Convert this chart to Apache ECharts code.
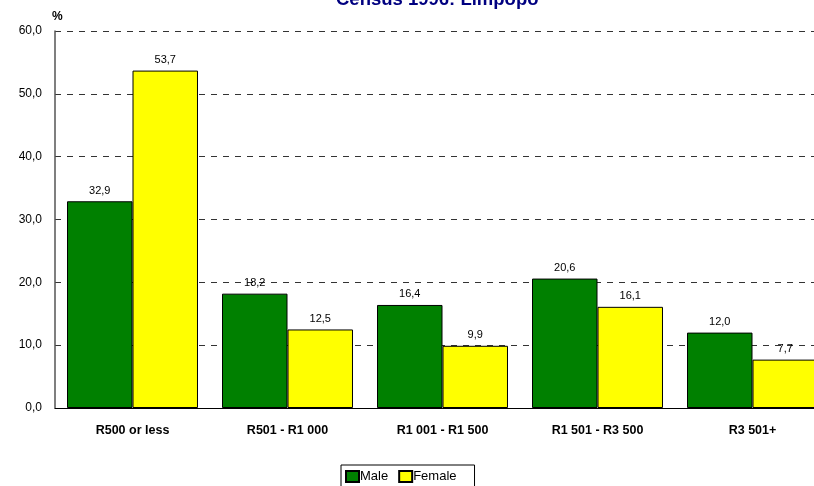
<!DOCTYPE html>
<html>
<head>
<meta charset="utf-8">
<script src="https://cdn.jsdelivr.net/npm/echarts@6/dist/echarts.min.js"></script>
<style>
  html, body { margin: 0; padding: 0; background: #fff; overflow: hidden; }
  #chart { width: 830px; height: 486px; }
</style>
</head>
<body>
<div id="chart"></div>
<script>
const categories = ['R500 or less', 'R501 - R1 000', 'R1 001 - R1 500', 'R1 501 - R3 500', 'R3 501+']
const male = [32.9, 18.2, 16.4, 20.6, 12.0]
const female = [53.7, 12.5, 9.9, 16.1, 7.7]

const font = 'Arial, "Liberation Sans", sans-serif'
const comma = v => v.toFixed(1).replace('.', ',')

// the plot runs a little past the right edge of the window, so the canvas is wider than 814
const chart = echarts.init(document.getElementById('chart'))

const barLabel = {
  show: true,
  position: 'top',
  distance: 5,
  fontFamily: font,
  fontSize: 11,
  color: '#000',
  formatter: p => comma(p.value)
}

chart.setOption({
  animation: false,
  title: {
    text: 'Census 1996: Limpopo',
    left: 331,
    top: -15,
    textStyle: {
      fontFamily: font,
      fontSize: 18.5,
      fontWeight: 'bold',
      color: '#000080'
    }
  },
  legend: {
    data: ['Male', 'Female'],
    left: 341,
    top: 465,
    padding: [5, 18, 12, 4],
    itemWidth: 13,
    itemHeight: 11,
    itemGap: 10,
    borderColor: '#000',
    borderWidth: 1,
    borderRadius: 0,
    icon: 'rect',
    textStyle: { fontFamily: font, fontSize: 13, color: '#000', padding: [0, 0, 0, -4] }
  },
  grid: {
    left: 55,
    right: 0,
    top: 31,
    bottom: 78,
    containLabel: false
  },
  xAxis: {
    type: 'category',
    data: categories,
    axisLine: { lineStyle: { color: '#000', width: 1 } },
    axisTick: { show: false },
    axisLabel: {
      fontFamily: font,
      fontSize: 12.5,
      fontWeight: 'bold',
      color: '#000',
      margin: 16
    }
  },
  yAxis: {
    type: 'value',
    min: 0,
    max: 60,
    interval: 10,
    name: '%',
    nameLocation: 'end',
    nameGap: 8,
    nameTextStyle: {
      fontFamily: font,
      fontSize: 12,
      fontWeight: 'bold',
      color: '#000',
      align: 'left',
      padding: [0, 0, 0, -3]
    },
    axisLine: { show: true, lineStyle: { color: '#555', width: 1.5 } },
    axisTick: { show: false },
    axisLabel: {
      fontFamily: font,
      fontSize: 12,
      color: '#000',
      margin: 13,
      formatter: v => comma(v)
    },
    splitLine: {
      lineStyle: { color: '#333', type: [6, 6], width: 1 }
    }
  },
  series: [
    {
      name: 'Male',
      type: 'bar',
      data: male,
      barGap: '0%',
      barCategoryGap: '15.5%',
      itemStyle: { color: '#008000', borderColor: '#000', borderWidth: 1 },
      label: barLabel
    },
    {
      name: 'Female',
      type: 'bar',
      data: female,
      itemStyle: { color: '#ffff00', borderColor: '#000', borderWidth: 1 },
      label: barLabel
    }
  ]
})
</script>
</body>
</html>
